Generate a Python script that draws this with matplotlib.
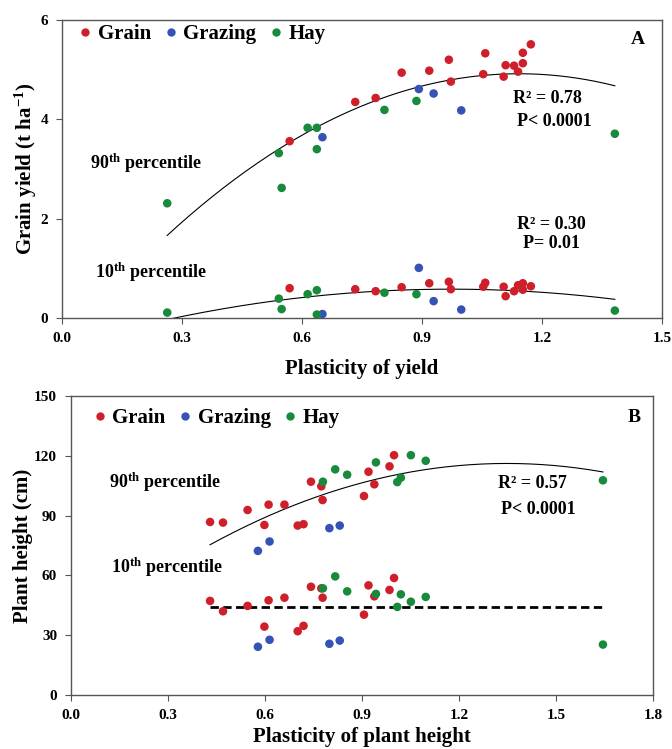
import numpy as np
import matplotlib
matplotlib.use("Agg")
import matplotlib.pyplot as plt
from matplotlib.lines import Line2D
from matplotlib.ticker import FormatStrFormatter, MultipleLocator

plt.rcParams['font.family'] = ['Liberation Serif', 'DejaVu Serif']
plt.rcParams['font.weight'] = 'bold'
plt.rcParams['axes.labelweight'] = 'bold'
plt.rcParams['mathtext.fontset'] = 'custom'
plt.rcParams['mathtext.rm'] = 'Liberation Serif:bold'
plt.rcParams['mathtext.it'] = 'Liberation Serif:bold'
plt.rcParams['mathtext.bf'] = 'Liberation Serif:bold'
plt.rcParams['mathtext.default'] = 'rm'

# --- panel A: grain yield vs plasticity of yield ---
grain_x_a = [0.569, 0.733, 0.784, 0.849, 0.918, 0.967, 0.972, 1.053, 1.058,
             1.104, 1.109, 1.130, 1.140, 1.152, 1.152, 1.172]
grain_y90_a = [3.56, 4.35, 4.43, 4.94, 4.98, 5.20, 4.76, 4.91, 5.33,
               4.86, 5.09, 5.08, 4.96, 5.34, 5.13, 5.51]
grain_y10_a = [0.60, 0.58, 0.54, 0.62, 0.70, 0.73, 0.58, 0.63, 0.71,
               0.63, 0.44, 0.54, 0.66, 0.70, 0.57, 0.64]
grazing_x_a = [0.651, 0.892, 0.929, 0.998]
grazing_y90_a = [3.64, 4.61, 4.52, 4.18]
grazing_y10_a = [0.08, 1.01, 0.34, 0.17]
hay_x_a = [0.263, 0.542, 0.549, 0.614, 0.637, 0.637, 0.806, 0.886, 1.382]
hay_y90_a = [2.31, 3.32, 2.62, 3.83, 3.83, 3.40, 4.19, 4.37, 3.71]
hay_y10_a = [0.11, 0.39, 0.18, 0.48, 0.56, 0.07, 0.51, 0.48, 0.15]

# --- panel B: plant height vs plasticity of plant height ---
grain_x_b = [0.430, 0.470, 0.546, 0.598, 0.611, 0.660, 0.701, 0.719, 0.742,
             0.774, 0.778, 0.906, 0.920, 0.938, 0.985, 0.999]
grain_y90_b = [86.8, 86.5, 92.8, 85.3, 95.5, 95.5, 85.0, 85.7, 107.0,
               104.7, 97.8, 99.8, 112.0, 105.7, 114.7, 120.3]
grain_y10_b = [47.2, 42.0, 44.7, 34.3, 47.5, 48.8, 32.0, 34.7, 54.3,
               53.5, 48.8, 40.3, 55.0, 49.5, 52.7, 58.7]
grazing_x_b = [0.578, 0.614, 0.799, 0.831]
grazing_y90_b = [72.3, 77.0, 83.7, 85.0]
grazing_y10_b = [24.2, 27.7, 25.7, 27.3]
hay_x_b = [0.779, 0.817, 0.854, 0.943, 1.009, 1.020, 1.051, 1.097, 1.645]
hay_y90_b = [107.0, 113.2, 110.5, 116.7, 106.8, 109.0, 120.3, 117.5, 107.7]
hay_y10_b = [53.5, 59.5, 52.0, 50.7, 44.2, 50.5, 46.8, 49.2, 25.3]

RED, BLUE, GREEN = '#cf1f2b', '#3552b5', '#178a3c'
SPINE = '#555555'


def style_axes(ax, xmax, ymax, ystep):
    ax.set_xlim(0, xmax)
    ax.set_ylim(0, ymax)
    ax.xaxis.set_major_locator(MultipleLocator(0.3))
    ax.yaxis.set_major_locator(MultipleLocator(ystep))
    ax.xaxis.set_major_formatter(FormatStrFormatter('%.1f'))
    ax.tick_params(direction='out', length=4, width=0.8, color=SPINE,
                   labelsize=11, pad=6)
    for s in ax.spines.values():
        s.set_color(SPINE)
        s.set_linewidth(1.0)


def scatter_groups(ax, groups):
    for x, y, c in groups:
        ax.scatter(x, y, s=38, color=c, edgecolors='none', zorder=3)


def fit_line(ax, xs, ys, **kw):
    x = np.concatenate(xs)
    y = np.concatenate(ys)
    p = np.polyfit(x, y, 2)
    xx = np.linspace(x.min(), x.max(), 200)
    ax.plot(xx, np.polyval(p, xx), color='black', lw=0.8, zorder=2, **kw)


def add_legend(ax, anchor):
    handles = [Line2D([], [], ls='none', marker='o', ms=6, color=c,
                      markeredgecolor='none') for c in (RED, BLUE, GREEN)]
    ax.legend(handles, ['Grain', 'Grazing', 'Hay'], loc='upper left',
              bbox_to_anchor=anchor, ncol=3, frameon=False,
              prop={'size': 15, 'weight': 'bold'}, handlelength=0.5,
              handletextpad=0.35, columnspacing=0.7, borderaxespad=0,
              borderpad=0)


fig = plt.figure(figsize=(6.72, 7.49), dpi=100)
axA = fig.add_axes([0.0923, 0.5754, 0.8929, 0.3979])
axB = fig.add_axes([0.1057, 0.0721, 0.8661, 0.3992])

# panel A
style_axes(axA, 1.5, 6, 2)
scatter_groups(axA, [(grain_x_a, grain_y90_a, RED), (grazing_x_a, grazing_y90_a, BLUE),
                     (hay_x_a, hay_y90_a, GREEN), (grain_x_a, grain_y10_a, RED),
                     (grazing_x_a, grazing_y10_a, BLUE), (hay_x_a, hay_y10_a, GREEN)])
xa = [np.array(grain_x_a), np.array(grazing_x_a), np.array(hay_x_a)]
fit_line(axA, xa, [np.array(grain_y90_a), np.array(grazing_y90_a), np.array(hay_y90_a)])
fit_line(axA, xa, [np.array(grain_y10_a), np.array(grazing_y10_a), np.array(hay_y10_a)])
axA.text(0.07, 3.12, '90$^{th}$ percentile', fontsize=13, va='center')
axA.text(0.083, 0.93, '10$^{th}$ percentile', fontsize=13, va='center')
axA.text(1.127, 4.41, 'R² = 0.78', fontsize=13, va='center')
axA.text(1.137, 3.95, 'P< 0.0001', fontsize=13, va='center')
axA.text(1.224, 1.89, 'R² = 0.30', fontsize=13, va='center', ha='center')
axA.text(1.224, 1.51, 'P= 0.01', fontsize=13, va='center', ha='center')
axA.text(1.44, 5.6, 'A', fontsize=14, va='center', ha='center')
axA.set_xlabel('Plasticity of yield', fontsize=15, labelpad=10)
axA.set_ylabel('Grain yield (t ha$^{-1}$)', fontsize=15, labelpad=1)
add_legend(axA, (0.03, 0.985))

# panel B
style_axes(axB, 1.8, 150, 30)
scatter_groups(axB, [(grain_x_b, grain_y90_b, RED), (grazing_x_b, grazing_y90_b, BLUE),
                     (hay_x_b, hay_y90_b, GREEN), (grain_x_b, grain_y10_b, RED),
                     (grazing_x_b, grazing_y10_b, BLUE), (hay_x_b, hay_y10_b, GREEN)])
xb = [np.array(grain_x_b), np.array(grazing_x_b), np.array(hay_x_b)]
fit_line(axB, xb, [np.array(grain_y90_b), np.array(grazing_y90_b), np.array(hay_y90_b)])
all_x_b = np.concatenate(xb)
mean10_b = np.mean(np.concatenate([grain_y10_b, grazing_y10_b, hay_y10_b]))
axB.plot([all_x_b.min(), all_x_b.max()], [mean10_b, mean10_b], color='black',
         lw=2, ls=(0, (3, 1.6)), zorder=2)
axB.text(0.118, 106.5, '90$^{th}$ percentile', fontsize=13, va='center')
axB.text(0.123, 64, '10$^{th}$ percentile', fontsize=13, va='center')
axB.text(1.32, 106.2, 'R² = 0.57', fontsize=13, va='center')
axB.text(1.33, 93.3, 'P< 0.0001', fontsize=13, va='center')
axB.text(1.741, 139, 'B', fontsize=14, va='center', ha='center')
axB.set_xlabel('Plasticity of plant height', fontsize=15, labelpad=4)
axB.set_ylabel('Plant height (cm)', fontsize=15, labelpad=1)
add_legend(axB, (0.04, 0.96))

fig.savefig('out.png', dpi=100)
